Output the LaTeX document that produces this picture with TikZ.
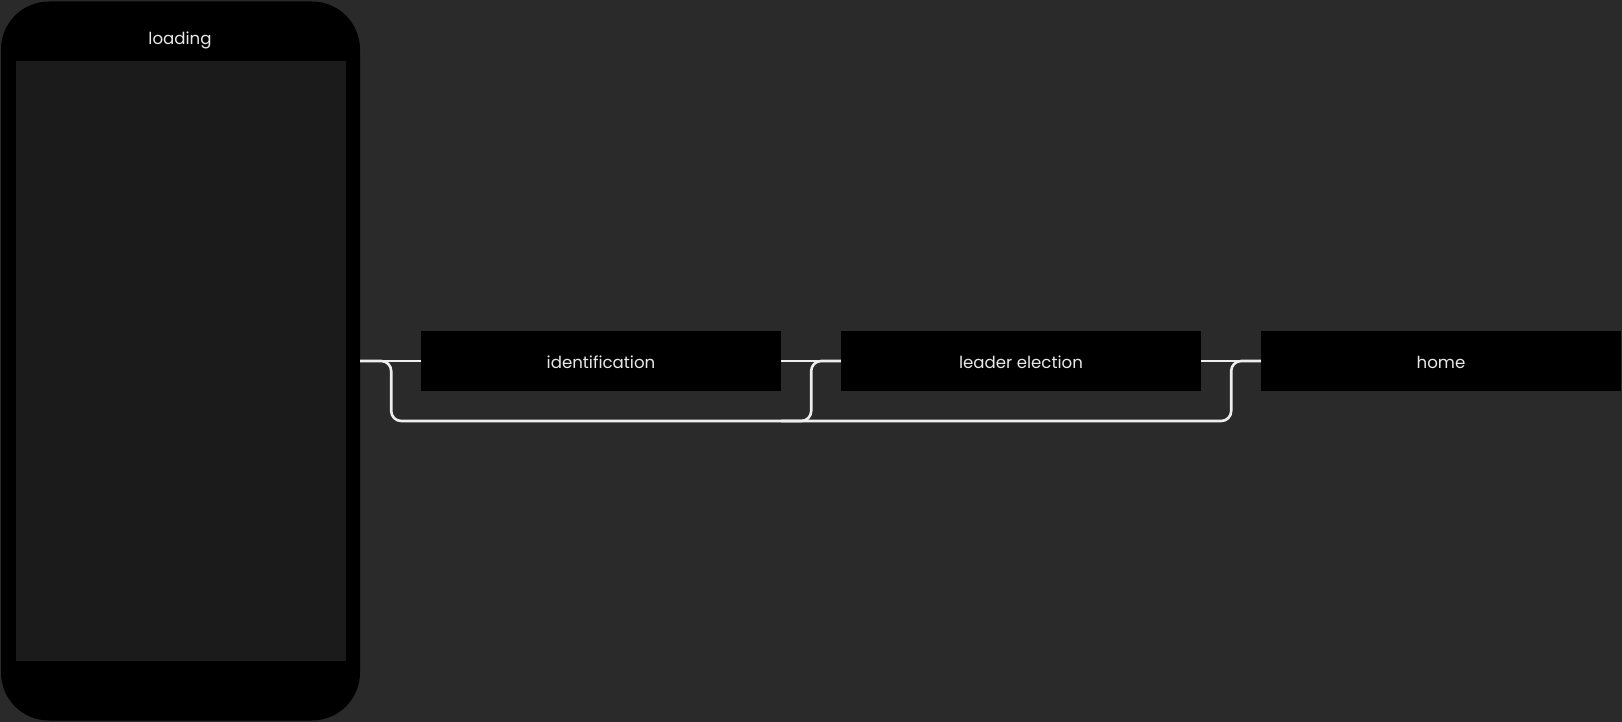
\documentclass[tikz,border=0pt]{standalone}
\usepackage{fontspec}
\setmainfont{Poppins}
\usetikzlibrary{calc}
\definecolor{bgc}{HTML}{2A2A2A}
\definecolor{scr}{HTML}{1B1B1B}
\definecolor{linec}{HTML}{EEEEEE}
\definecolor{txt}{HTML}{E8E8E8}
\tikzset{
  stepbox/.style={fill=black, draw=none, minimum width=360pt, minimum height=60pt, inner sep=0pt},
  steplabel/.style={text=txt, font=\fontsize{16.6}{18}\selectfont, inner sep=0pt},
  conn/.style={draw=linec, line width=2.6pt, line join=round},
}
\begin{document}
\begin{tikzpicture}[x=1pt,y=-1pt]
\fill[bgc] (0,0) rectangle (1622,722);
\useasboundingbox (0,0) rectangle (1622,722);
\node[fill=black, rounded corners=48pt, minimum width=359pt, minimum height=719pt, inner sep=0pt] (phone) at (180.5,361) {};
\node[fill=scr, minimum width=330pt, minimum height=600pt, inner sep=0pt] (screen) at (181,361) {};
\node[steplabel] (title) at (180,40.5) {loading};
\node[stepbox] (ident) at (601,361) {};
\node[steplabel] (identtxt) at ($(ident.center)+(0,1.5)$) {identification};
\node[stepbox] (leader) at (1021,361) {};
\node[steplabel] (leadertxt) at ($(leader.center)+(0,1.5)$) {leader election};
\node[stepbox] (home) at (1441,361) {};
\node[steplabel] (hometxt) at ($(home.center)+(0,1.5)$) {home};
\draw[conn] (phone.east) -- (ident.west);
\draw[conn] (ident.east) -- (leader.west);
\draw[conn] (leader.east) -- (home.west);
\draw[conn, rounded corners=10pt] (phone.east) -- ++(31,0) -- ++(0,60) -- ($(leader.east)+(30,60)$) -- ($(leader.east)+(30,0)$) -- (home.west);
\draw[conn, rounded corners=10pt] ($(ident.east)+(0,60)$) -- ($(ident.east)+(30,60)$) -- ($(ident.east)+(30,0)$) -- (leader.west);
\end{tikzpicture}
\end{document}
